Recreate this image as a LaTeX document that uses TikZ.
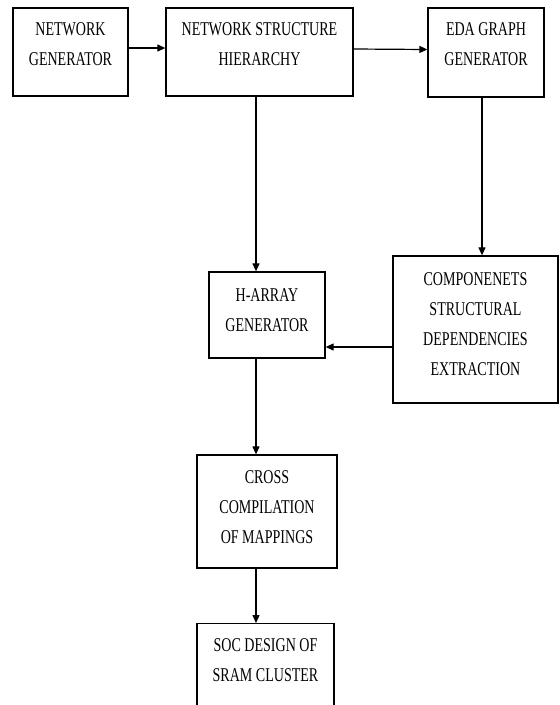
\documentclass[tikz,border=0pt]{standalone}
\usepackage{fontspec}
\setmainfont{Liberation Serif}[FakeStretch=0.72]
\usetikzlibrary{arrows.meta}
\begin{document}
\begin{tikzpicture}[x=1pt,y=-1pt,
  box/.style={draw=black,line width=1.3pt,inner sep=0pt,align=center,
    font=\fontsize{19.5}{30}\selectfont},
  arr/.style={draw=black,line width=1.2pt,-{Triangle[length=8pt,width=7pt]}}]
\useasboundingbox (0,0) rectangle (560,705);
\clip (0,0) rectangle (560,705);
\node[box,minimum width=115pt,minimum height=88pt,text depth=16pt] (b1) at (70.5,52) {NETWORK\\GENERATOR};
\node[box,minimum width=187pt,minimum height=88pt,text depth=16pt] (b2) at (259.5,52) {NETWORK STRUCTURE\\HIERARCHY};
\node[box,minimum width=116pt,minimum height=89pt,text depth=16pt] (b3) at (486,52.5) {EDA GRAPH\\GENERATOR};
\node[box,minimum width=116pt,minimum height=86pt,text depth=10pt] (h) at (267,315) {H-ARRAY\\GENERATOR};
\node[box,minimum width=165pt,minimum height=147pt,text depth=10pt] (c) at (475.5,329.5) {COMPONENETS\\STRUCTURAL\\DEPENDENCIES\\EXTRACTION};
\node[box,minimum width=140pt,minimum height=113pt,text depth=9pt] (x) at (267,511.5) {CROSS\\COMPILATION\\OF MAPPINGS};
\node[box,minimum width=137pt,inner ysep=15pt,text depth=80pt,anchor=north] (soc) at (265.5,623) {SOC DESIGN OF\\SRAM CLUSTER};
\draw[arr] ([yshift=4pt]b1.east) -- ([yshift=4pt]b2.west);
\draw[arr] ([yshift=3pt]b2.east) -- ([yshift=3pt]b3.west);
\coordinate (p1) at ([xshift=-3.5pt]b2.south);
\draw[arr] (p1) -- (p1 |- h.north);
\coordinate (p2) at ([xshift=-4pt]b3.south);
\draw[arr] (p2) -- (p2 |- c.north);
\coordinate (p3) at ([yshift=-17.5pt]c.west);
\draw[arr] (p3) -- (p3 -| h.east);
\coordinate (p4) at ([xshift=-11pt]h.south);
\draw[arr] (p4) -- (p4 |- x.north);
\coordinate (p5) at ([xshift=-11pt]x.south);
\draw[arr] (p5) -- (p5 |- soc.north);
\end{tikzpicture}
\end{document}
